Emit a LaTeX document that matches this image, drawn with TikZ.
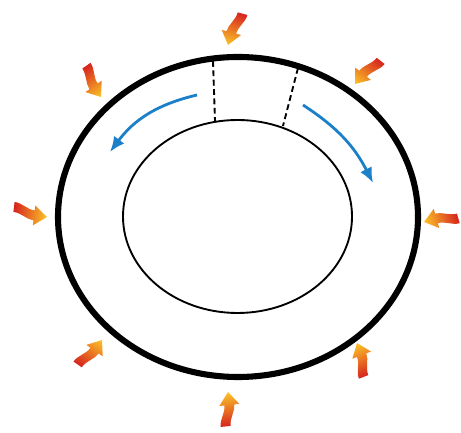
\documentclass[tikz,border=0pt]{standalone}
\usepackage{tikz}
\usetikzlibrary{arrows.meta}
\definecolor{heatred}{RGB}{214,36,30}
\definecolor{heatyellow}{RGB}{252,196,40}
\definecolor{flowblue}{RGB}{28,128,200}
\tikzstyle{heat} = [left color=heatred, right color=heatyellow, draw=none]
\tikzstyle{flow} = [flowblue, line width=2.4pt, -{Latex[length=13pt, width=11pt]}]

% one heat arrow, tip at #1, pointing at angle #2
\newcommand{\heatarrow}[2]{%
  \begin{scope}[transform canvas={shift={(#1)}, rotate=#2}]
    \shade[heat] (-34,1) .. controls (-26,1) and (-20,-5) .. (-13,-5)
      -- (-13,-10) -- (0,0) -- (-13,10) -- (-13,5)
      .. controls (-21,5) and (-26,11) .. (-34,11) -- cycle;
  \end{scope}}

\begin{document}
\begin{tikzpicture}[
        x=0.03cm, y=0.03cm,
        wall/.style={draw=black, line width=5.2pt},
        core/.style={draw=black, line width=1.6pt},
        cut/.style={draw=black, line width=1.6pt, dash pattern=on 5pt off 3pt},
    ]
    \useasboundingbox (0,0) rectangle (461,432);

    \draw[wall] (238,215) ellipse [x radius=180, y radius=160];
    \draw[core] (237.5,215.5) ellipse [x radius=114.5, y radius=96.5];

    \draw[cut] (213,371) -- (215,311);
    \draw[cut] (298,364) -- (283,306);

    \draw[flow] (197,337) to[bend right=20] (110,280);
    \draw[flow] (303,327) to[bend left=15] (373,249);

    \heatarrow{228,387}{255}
    \heatarrow{101,335}{-55}
    \heatarrow{355,348}{232}
    \heatarrow{47,215}{-7}
    \heatarrow{424,210}{196}
    \heatarrow{102,92}{55}
    \heatarrow{357,89}{111}
    \heatarrow{228,40}{96}
\end{tikzpicture}
\end{document}
